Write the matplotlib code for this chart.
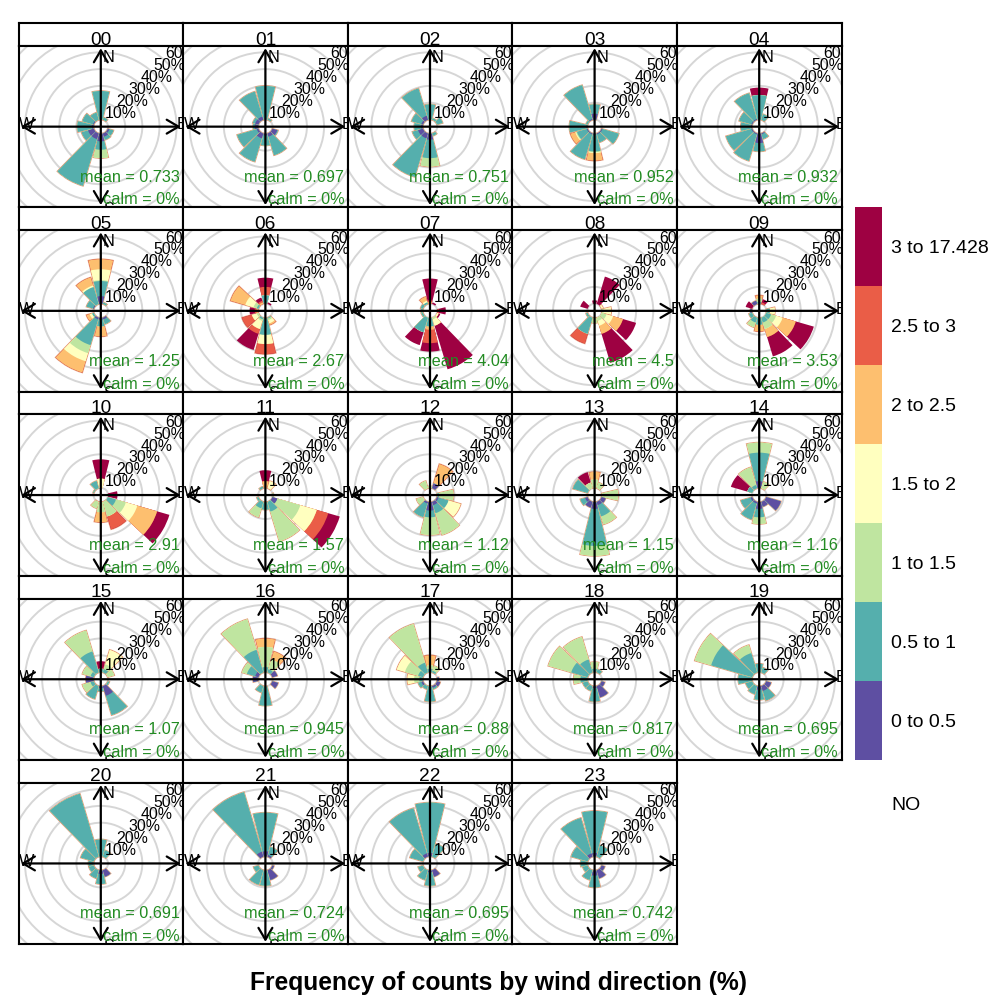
import matplotlib
matplotlib.use("Agg")
import matplotlib.pyplot as plt
from matplotlib.patches import Wedge, Circle
from matplotlib.transforms import offset_copy
import numpy as np

plt.rcParams['font.family'] = ['Liberation Sans', 'DejaVu Sans']

# ---------------- data ----------------
DIRECTIONS = [0, 30, 60, 90, 120, 150, 180, 210, 240, 270, 300, 330]
SPEED_LABELS = ["0 to 0.5", "0.5 to 1", "1 to 1.5", "1.5 to 2",
                "2 to 2.5", "2.5 to 3", "3 to 17.428"]
SPEED_COLOURS = ["#5E4FA2", "#55AFAD", "#BFE5A0", "#FFFFBF",
                 "#FDBF6F", "#EA5D47", "#9E0142"]
HOURS = ["00", "01", "02", "03", "04", "05", "06", "07", "08", "09", "10", "11",
         "12", "13", "14", "15", "16", "17", "18", "19", "20", "21", "22", "23"]
MEANS = ["0.733", "0.697", "0.751", "0.952", "0.932", "1.25", "2.67", "4.04",
         "4.5", "3.53", "2.91", "1.57", "1.12", "1.15", "1.16", "1.07",
         "0.945", "0.88", "0.817", "0.695", "0.691", "0.724", "0.695", "0.742"]
CALMS = [0, 0, 0, 0, 0, 0, 0, 0, 0, 0, 0, 0, 0, 0, 0, 0, 0, 0, 0, 0, 0, 0, 0, 0]

# frequency (%) per direction (N, 30, ..., 330), per speed bin (low -> high)
F00 = [[0, 17], [0, 1.5], [], [], [1, 2.5], [2, 2], [4.5, 5, 5], [3.5, 29],
       [3.5, 4], [1, 8.5], [0.5, 6.5], [0, 4.5]]
F01 = [[0, 20], [0, 1], [], [], [3, 0.5], [2, 11.5], [1, 6], [3, 14.5],
       [1, 12], [2, 1], [2, 1.5], [2, 15.5]]
F02 = [[0, 9], [0, 1], [0, 3.5], [], [], [0, 1.5], [3.5, 11, 5], [3, 24],
       [3, 3.5], [1, 4], [1, 6], [2.5, 17]]
F03 = [[3.5, 5.5], [], [], [], [0.5, 10], [0.5, 5], [0.5, 10, 0.5, 0.5, 4.5],
       [0.5, 15.5], [0.5, 6, 0.5, 0.5, 3], [0.5, 10], [0, 1], [0.5, 21]]
F04 = [[0, 14.5, 0, 0, 0, 0, 4.5], [0, 3.5], [], [], [], [0.5, 3], [5.5, 5],
       [0.5, 16.5], [0.5, 15.5], [0.5, 6], [0.5, 7.5], [0.5, 16]]
F05 = [[4.5, 9, 0.5, 6.5, 6], [0, 1], [], [], [], [1, 3], [1, 4, 0, 0, 6],
       [1, 16, 5, 5, 7], [0, 1, 0, 1.5, 2], [], [0.5, 4], [0, 10.5, 0, 1, 5]]
F06 = [[0, 5, 0, 0, 0, 5, 5.5], [0, 0, 0, 0, 0, 0, 1], [], [], [],
       [0, 0.5, 1, 2, 1], [0, 10, 0, 5.5, 0, 6], [0, 1, 1, 5, 0, 3, 10],
       [0, 0, 1, 3, 0, 6], [0, 0, 0, 0, 1, 1, 3], [0, 1, 2, 5, 9],
       [0, 0, 0, 0, 1, 1, 2]]
F07 = [[0, 0, 0, 0, 1, 1, 13], [0, 0, 0, 0, 0, 0, 1], [],
       [0, 0, 0, 0, 0, 1, 4], [0, 0, 0, 1, 0, 0, 1], [0, 0, 1, 4, 0, 0, 27],
       [0, 5, 0, 0, 2, 8, 5], [0, 9, 0, 0, 0, 0, 8], [0, 1], [0, 1],
       [0, 1.5], [0, 1, 0, 1, 2.5]]
F08 = [[0, 0, 0, 0, 0, 0, 2], [0, 0, 0, 0, 0, 0, 17], [0, 0, 0, 1],
       [0, 0, 1, 4.5], [0, 0, 3, 4, 6, 0, 8], [0, 0, 2, 3, 5, 0, 18],
       [0, 0, 3], [0, 10, 0, 0, 0, 6], [0, 1], [], [0, 0, 0, 0, 0, 0, 4.5], []]
F09 = [[0, 1, 2, 0, 2], [0, 0, 0, 0, 0, 1, 2], [], [0, 2, 0, 3],
       [0, 3, 3, 4, 8, 0, 11], [0, 3, 4, 0, 5, 0, 12], [0, 4, 0, 0, 4],
       [0, 3, 3], [0, 2], [1], [0, 0, 0, 0, 0, 0, 4], [2]]
F10 = [[0, 0, 0, 5.5, 0, 0, 11.5], [], [], [0, 0, 0, 0, 0, 0, 5.5],
       [0, 5, 6, 7, 12, 0, 7.5], [0, 0, 9, 0, 0, 8], [0, 0, 6, 0, 6],
       [0, 0, 4], [], [], [0, 0.5], [0, 4.5]]
F11 = [[0, 0, 0, 0, 4, 0, 6.5], [0, 0, 0, 4.5], [], [0, 0.5],
       [3, 0, 14, 10, 0, 7, 7], [0, 6, 18.5], [0, 4.5], [0, 4, 5.5], [0, 1],
       [], [], [0, 1]]
F12 = [[0, 0, 1], [3, 0, 0, 0, 12], [], [0, 1, 8.5], [1, 6, 0, 7.5],
       [2, 5, 13.5], [5, 4, 10.5], [1, 8.5], [0, 0, 4], [], [], [0, 0, 4.5]]
F13 = [[0, 0, 5, 0, 4.5], [0, 0, 3.5], [], [0, 0, 9.5], [2.5], [2, 7, 5],
       [4, 22, 6], [3.5], [1.5, 3], [], [0, 9], [0, 0, 3.5, 0, 0, 0, 6.5]]
F14 = [[4, 17, 6], [0, 0, 4], [], [], [9], [3], [4, 5, 4], [1, 10], [1, 6],
       [], [0, 3, 0, 0, 0, 0, 10], [0, 2, 11]]
F15 = [[0, 2, 0, 0, 0, 0, 4.5], [0, 2, 3, 9], [0, 0, 4], [], [0, 1], [6, 12],
       [1, 2], [0, 8], [0, 2, 5], [4.5], [0, 2, 5], [0, 13, 13]]
F16 = [[0, 3, 12, 0, 5], [0, 2, 6, 0, 5], [3], [], [3.5], [], [0, 11.5],
       [0, 4], [], [3], [2, 5, 3], [0, 14, 19]]
F17 = [[0, 2, 2, 0, 6], [0, 1, 3], [], [1], [2], [1, 1], [0, 9], [0, 2],
       [1, 2], [0, 2, 3, 4], [0, 3, 8, 5], [0, 6, 24]]
F18 = [[0, 2, 4], [0, 2], [], [], [2], [7], [1, 8], [0, 3], [0, 3],
       [0, 4, 4], [0, 10, 14], [0, 8, 14]]
F19 = [[0, 5], [0, 3], [], [], [3], [3, 6], [2, 6], [0, 5], [0, 4], [0, 8],
       [0, 25, 10], [0, 12, 5]]
F20 = [[0, 10], [0, 4], [], [], [], [4], [2, 6], [0, 5], [0, 3], [0, 3],
       [0, 8], [0, 39]]
F21 = [[3, 23], [1, 5], [], [], [1], [6], [0, 9], [0, 9], [0, 3], [], [],
       [3, 37]]
F22 = [[2, 30], [0, 8], [], [], [], [4], [1, 8], [0, 6], [0, 3], [], [0, 8],
       [2, 28]]
F23 = [[2, 25], [0, 7], [], [], [2], [5], [3, 7], [0, 6], [0, 3], [0, 4],
       [0, 10], [2, 22]]

FREQS = [F00, F01, F02, F03, F04, F05, F06, F07, F08, F09, F10, F11,
         F12, F13, F14, F15, F16, F17, F18, F19, F20, F21, F22, F23]

MAX_FREQ = 42.4
GRID_VALUES = [10, 20, 30, 40, 50, 60]

# ---------------- layout ----------------
W, H = 1002, 999
fig = plt.figure(figsize=(W / 100, H / 100), dpi=100)

LEFT, TOP = 18.5, 23.2
PANEL_W, ROW_H, STRIP_H = 164.6, 184.2, 22.7
PLOT_H = ROW_H - STRIP_H


def px_rect(x0, y0, w, h):
    return [x0 / W, 1 - (y0 + h) / H, w / W, h / H]


off = MAX_FREQ * 0.1
R = MAX_FREQ + off
LIM = R * 1.03
HALF = 13.6
BORDER_LW = 1.5
FRINGE = '#E8A080'

for i, hour in enumerate(HOURS):
    col, row = i % 5, i // 5
    x0 = LEFT + col * PANEL_W
    y0 = TOP + row * ROW_H

    # strip
    sax = fig.add_axes(px_rect(x0, y0, PANEL_W, STRIP_H))
    sax.set_xticks([]); sax.set_yticks([])
    for s in sax.spines.values():
        s.set_linewidth(BORDER_LW)
    sax.text(0.5, 0.06, hour, ha='center', va='baseline', fontsize=13.8,
             transform=sax.transAxes)

    ax = fig.add_axes(px_rect(x0, y0 + STRIP_H, PANEL_W, PLOT_H))
    ax.set_xlim(-LIM, LIM)
    ax.set_ylim(-LIM, LIM)
    ax.set_xticks([]); ax.set_yticks([])
    for s in ax.spines.values():
        s.set_linewidth(BORDER_LW)
        s.set_zorder(10)

    # grid circles
    for r in [off] + [off + v for v in GRID_VALUES]:
        ax.add_patch(Circle((0, 0), r, fill=False, ec='#D6D6D6', lw=1.4,
                            zorder=0.5))

    # wedges
    for d, bins in zip(DIRECTIONS, FREQS[i]):
        vals = list(bins) + [0] * (len(SPEED_COLOURS) - len(bins))
        cum = np.cumsum(vals)
        if cum[-1] <= 0:
            continue
        th = 90 - d
        if vals[-1] == 0:
            ax.add_patch(Wedge((0, 0), off + cum[-1], th - HALF, th + HALF,
                               width=cum[-1], fill=False, edgecolor=FRINGE,
                               lw=1.1, zorder=0.9))
        for j in range(len(SPEED_COLOURS) - 1, -1, -1):
            if cum[j] <= 0:
                continue
            ax.add_patch(Wedge((0, 0), off + cum[j], th - HALF, th + HALF,
                               width=cum[j], facecolor=SPEED_COLOURS[j],
                               edgecolor='none', lw=0, zorder=1))

    # axis arrows
    arrow = dict(arrowstyle='<->,head_length=0.85,head_width=0.5', lw=1.6,
                 color='black', shrinkA=0, shrinkB=0, mutation_scale=10)
    ax.annotate('', xy=(R, 0), xytext=(-R, 0), arrowprops=arrow, zorder=3)
    ax.annotate('', xy=(0, R), xytext=(0, -R), arrowprops=arrow, zorder=3)

    # grid labels (clipped to the panel)
    s45 = np.sin(np.pi / 4)
    lab_tr = offset_copy(ax.transData, fig=fig, x=1.8, y=-2.6, units='points')
    for v in GRID_VALUES:
        r = off + v
        ax.text(r * s45, r * s45, f"{v}%", transform=lab_tr,
                ha='center', va='center', fontsize=11.4, zorder=4,
                clip_on=True)

    # compass letters
    for lab, (lx, ly) in {"N": (4.7, 41.4), "E": (47.6, 1.0),
                          "S": (4.7, -49.3), "W": (-43.2, 1.0)}.items():
        ax.text(lx, ly, lab, ha='center', va='center', fontsize=11.7,
                zorder=4, clip_on=True)

    ax.text(0.979, 0.16, f"mean = {MEANS[i]}", transform=ax.transAxes,
            ha='right', va='baseline', color='#228B22', fontsize=11.7,
            zorder=5, clip_on=True)
    ax.text(0.979, 0.018, f"calm = {CALMS[i]}%", transform=ax.transAxes,
            ha='right', va='baseline', color='#228B22', fontsize=11.7,
            zorder=5, clip_on=True)

# colour key
KEY_TOP, KEY_BOT = 207, 760
kax = fig.add_axes(px_rect(855, KEY_TOP, 27, KEY_BOT - KEY_TOP))
n = len(SPEED_LABELS)
kax.bar(np.zeros(n), np.ones(n), bottom=np.arange(n), width=1.0,
        color=SPEED_COLOURS, edgecolor='none')
kax.set_xlim(-0.5, 0.5)
kax.set_ylim(0, n)
kax.axis('off')
for k, lab in enumerate(SPEED_LABELS):
    kax.text(1.33, (k + 0.47) / n, lab, transform=kax.transAxes,
             ha='left', va='center', fontsize=14)
fig.text(891 / W, 1 - 805 / H, "NO", ha='left', va='center', fontsize=14)

fig.text(498 / W, 1 - 983 / H, "Frequency of counts by wind direction (%)",
         ha='center', va='center', fontsize=17.7, fontweight='bold')

fig.savefig("out.png", dpi=100)
